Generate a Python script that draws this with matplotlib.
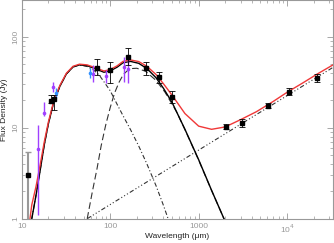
import numpy as np
import matplotlib
matplotlib.use("Agg")
import matplotlib.pyplot as plt

plt.rcParams['font.family'] = ['Liberation Sans', 'DejaVu Sans']

#-------------------model_curves_read_off_the_picture-------------------#
lam_tot = [12.4, 13, 14.5, 16, 18, 20, 23, 27, 32, 38, 45, 55, 65, 75, 85, 100,
           120, 140, 170, 210, 260, 330, 400, 500, 700, 1000, 1400, 2000, 3000,
           4500, 7000, 10000, 15000, 22000, 33000]
f_tot = [1.0, 1.42, 2.25, 3.7, 7.0, 11.5, 19.6, 29.2, 39.7, 47.3, 49.9, 49.0, 46.3,
         43.9, 42.0, 43.5, 47.9, 53.6, 55.5, 53.3, 47.3, 38.4, 30.4, 22.8, 14.3,
         10.4, 9.6, 10.2, 12.3, 15.0, 19.5, 24.5, 31.0, 39.0, 49.0]

lam_sum = [13, 14.5, 16, 18, 20, 23, 27, 32, 38, 45, 55, 65, 75, 85, 100, 120, 140,
           170, 210, 260, 330, 400, 500, 700, 1000, 1400, 1950]
f_sum = [1.0, 1.8, 3.2, 6.5, 11, 19, 28.5, 39, 46.5, 49, 48, 45.2, 42.7, 40.7, 42.1,
         46.3, 51.8, 53.5, 51, 44.7, 35.4, 27.1, 19, 9.6, 4.45, 2.05, 0.98]

lam_warm = [13, 14.5, 16, 18, 20, 23, 27, 32, 38, 45, 55, 65, 75, 85, 100, 120, 140,
            170, 210, 260, 330, 400, 460]
f_warm = [1.0, 1.8, 3.2, 6.5, 11, 19, 28.5, 39, 46.5, 49, 47, 43, 38, 32, 25.5, 18,
          13.5, 9.5, 6.3, 4.0, 2.3, 1.4, 0.95]

lam_cold = [55, 63, 71, 79, 89, 100, 112, 126, 141, 158, 178, 200, 251, 331, 417,
            562, 708, 1000, 1413, 1950]
f_cold = [1.0, 2.0, 3.55, 6.3, 10.7, 16.6, 24, 31.6, 38.5, 42.7, 44.7, 45, 41.7, 33,
          24.5, 15, 9.3, 4.4, 2.0, 0.98]

lam_pl = [55, 33000]
f_pl = [1.0, 46.0]

#-------------------------------data_points-----------------------------#
lam_blk = [21.4, 23.3, 70.3, 99.5, 160, 252, 356, 503, 2030, 3080, 6110, 10400, 21900]
f_blk = [19.7, 20.7, 45, 43, 60.3, 45, 35.8, 21.9, 10.3, 11.4, 17.3, 24.7, 35.4]
lo_blk = [18.6, 15.6, 37.6, 30.8, 48.7, 38, 30.8, 18.5, 9.6, 10.3, 16.3, 22.9, 32.0]
hi_blk = [22.7, 22.8, 56.3, 53, 74.5, 53, 41.2, 25.5, 11.0, 12.6, 18.8, 27.0, 39.0]

lam_gry = [11.7]
f_gry = [3.0]
lo_gry = [0.5]
hi_gry = [5.45]

lam_pur = [15.2, 18.0, 22.4, 64.4, 89.8, 143, 160]
f_pur = [5.9, 14.6, 28.2, 38.6, 37, 46.8, 43.8]
lo_pur = [1.1, 13.3, 24.9, 32, 31.3, 32, 30.8]
hi_pur = [10.7, 19.3, 32, 48.7, 42.9, 60.2, 57.8]

lam_blu = [24.2, 59.2]
f_blu = [24.0, 40.2]
lo_blu = [21.0, 34.8]
hi_blu = [27.0, 44.9]

#-------------------------------grafica---------------------------------#
fig = plt.figure(figsize=(3.34, 2.43), dpi=100)
ax = fig.add_axes([0.065, 0.100, 0.932, 0.898])

ax.plot(lam_warm, f_warm, color="#333333", lw=0.8, dashes=(4, 2, 1, 2))
ax.plot(lam_cold, f_cold, color="#333333", lw=0.8, dashes=(6, 3))
ax.plot(lam_pl, f_pl, color="#333333", lw=0.8, dashes=(4, 2, 1, 2, 1, 2, 1, 2))
ax.plot(lam_sum, f_sum, color="black", lw=1.0)
ax.plot(lam_tot, f_tot, color="#f03838", lw=1.0)


def errs(f, lo, hi):
    f = np.array(f)
    return [f - np.array(lo), np.array(hi) - f]


ax.errorbar(lam_gry, f_gry, yerr=errs(f_gry, lo_gry, hi_gry), fmt="s", ms=2.2,
            color="black", ecolor="#999999", elinewidth=1.5, capsize=2)
ax.errorbar(lam_pur, f_pur, yerr=errs(f_pur, lo_pur, hi_pur), fmt="o", ms=1.6,
            color="#a040ff", elinewidth=1.0, capsize=0)
ax.errorbar(lam_blu, f_blu, yerr=errs(f_blu, lo_blu, hi_blu), fmt="o", ms=1.6,
            color="#2f90ff", elinewidth=1.0, capsize=0)
ax.errorbar(lam_blk, f_blk, yerr=errs(f_blk, lo_blk, hi_blk), fmt="s", ms=2.2,
            color="black", ecolor="black", elinewidth=0.6, capsize=2, capthick=0.6)

ax.set_xscale("log")
ax.set_yscale("log")
ax.set_xlim(10, 3.3e4)
ax.set_ylim(1, 250)

ax.set_xticks([10, 100, 1000, 10000])
ax.set_xticklabels(["10", "100", "1000", "10$^4$"])
ax.set_yticks([1, 10, 100])
ax.set_yticklabels(["1", "10", "100"], rotation=90, va="center")

for s in ax.spines.values():
    s.set_color("#999999")
    s.set_linewidth(0.8)
ax.tick_params(which="both", direction="in", top=True, right=True,
               colors="#999999", labelsize=6)
ax.tick_params(which="major", length=4, width=0.6)
ax.tick_params(which="minor", length=2, width=0.5)
ax.tick_params(axis="x", pad=3)
ax.tick_params(axis="y", pad=2)

# x label placed by hand so it stays inside the small canvas
fig.text(0.531, 0.025, "Wavelength (\u03bcm)", fontsize=6, color="#222222",
         ha="center", va="center")
ax.set_ylabel("Flux Density (Jy)", fontsize=6, color="#222222", labelpad=3)

fig.savefig("out.png", dpi=100)
